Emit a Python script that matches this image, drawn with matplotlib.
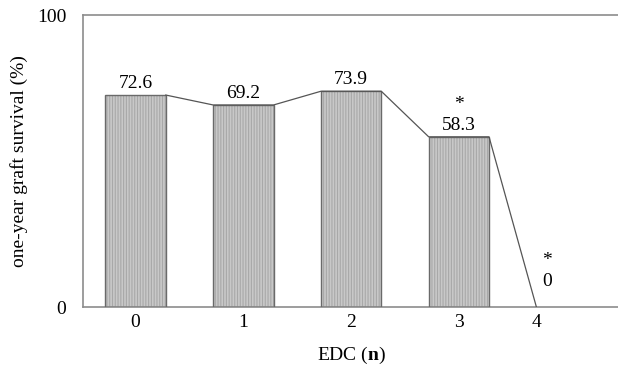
import matplotlib.pyplot as plt

categories = ['0', '1', '2', '3', '4']
survival = [72.6, 69.2, 73.9, 58.3, 0]
labels = ['72.6', '69.2', '73.9', '58.3', '0']
significant = [False, False, False, True, True]

plt.rcParams['font.family'] = ['Liberation Serif', 'DejaVu Serif']
plt.rcParams['mathtext.fontset'] = 'custom'
plt.rcParams['mathtext.rm'] = 'Liberation Serif'
plt.rcParams['mathtext.bf'] = 'Liberation Serif:bold'
plt.rcParams['hatch.linewidth'] = 0.8

fig = plt.figure(figsize=(6.18, 3.75), dpi=100)
ax = fig.add_axes([0.134, 0.181, 0.87, 0.779])

# category positions (the last one sits closer in the original)
xpos = [0, 1, 2, 3, 3.72]
w = 0.56
fs = 14

# textured fill, then the outline on top
ax.bar(xpos[:4], survival[:4], width=w, color='#c8c8c8', edgecolor='#a8a8a8',
       linewidth=0, hatch='||||||', zorder=2)
ax.bar(xpos[:4], survival[:4], width=w, color='none', edgecolor='#6a6a6a',
       linewidth=1.0, zorder=3)

# connecting line: top-right of one bar to top-left of the next
lx, ly = [], []
for i in range(4):
    lx += [xpos[i] - w / 2, xpos[i] + w / 2]
    ly += [survival[i], survival[i]]
lx.append(xpos[4])
ly.append(survival[4])
ax.plot(lx[1:], ly[1:], color='#555555', lw=0.9, zorder=3)

for i in range(4):
    ax.text(xpos[i], survival[i] + 1.0, labels[i], ha='center', va='bottom', fontsize=fs)
    if significant[i]:
        ax.text(xpos[i], survival[i] + 8.0, '*', ha='center', va='bottom', fontsize=fs)
ax.text(xpos[4] + 0.1, 6, labels[4], ha='center', va='bottom', fontsize=fs)
ax.text(xpos[4] + 0.1, 13, '*', ha='center', va='bottom', fontsize=fs)

ax.set_xlim(-0.49, 4.5)
ax.set_ylim(0, 100)
ax.set_xticks(xpos)
ax.set_xticklabels(categories, fontsize=fs)
ax.set_yticks([0, 100])
ax.set_yticklabels(['0', '100'], fontsize=fs)
ax.tick_params(length=0, pad=5)
ax.tick_params(axis='y', pad=12)
for s in ax.spines.values():
    s.set_color('#8c8c8c')
    s.set_linewidth(1.2)

ax.set_ylabel('one-year graft survival (%)', fontsize=fs, labelpad=6)
ax.set_xlabel(r'EDC ($\mathbf{n}$)', fontsize=fs, labelpad=10)

fig.savefig('out.png', dpi=100)
